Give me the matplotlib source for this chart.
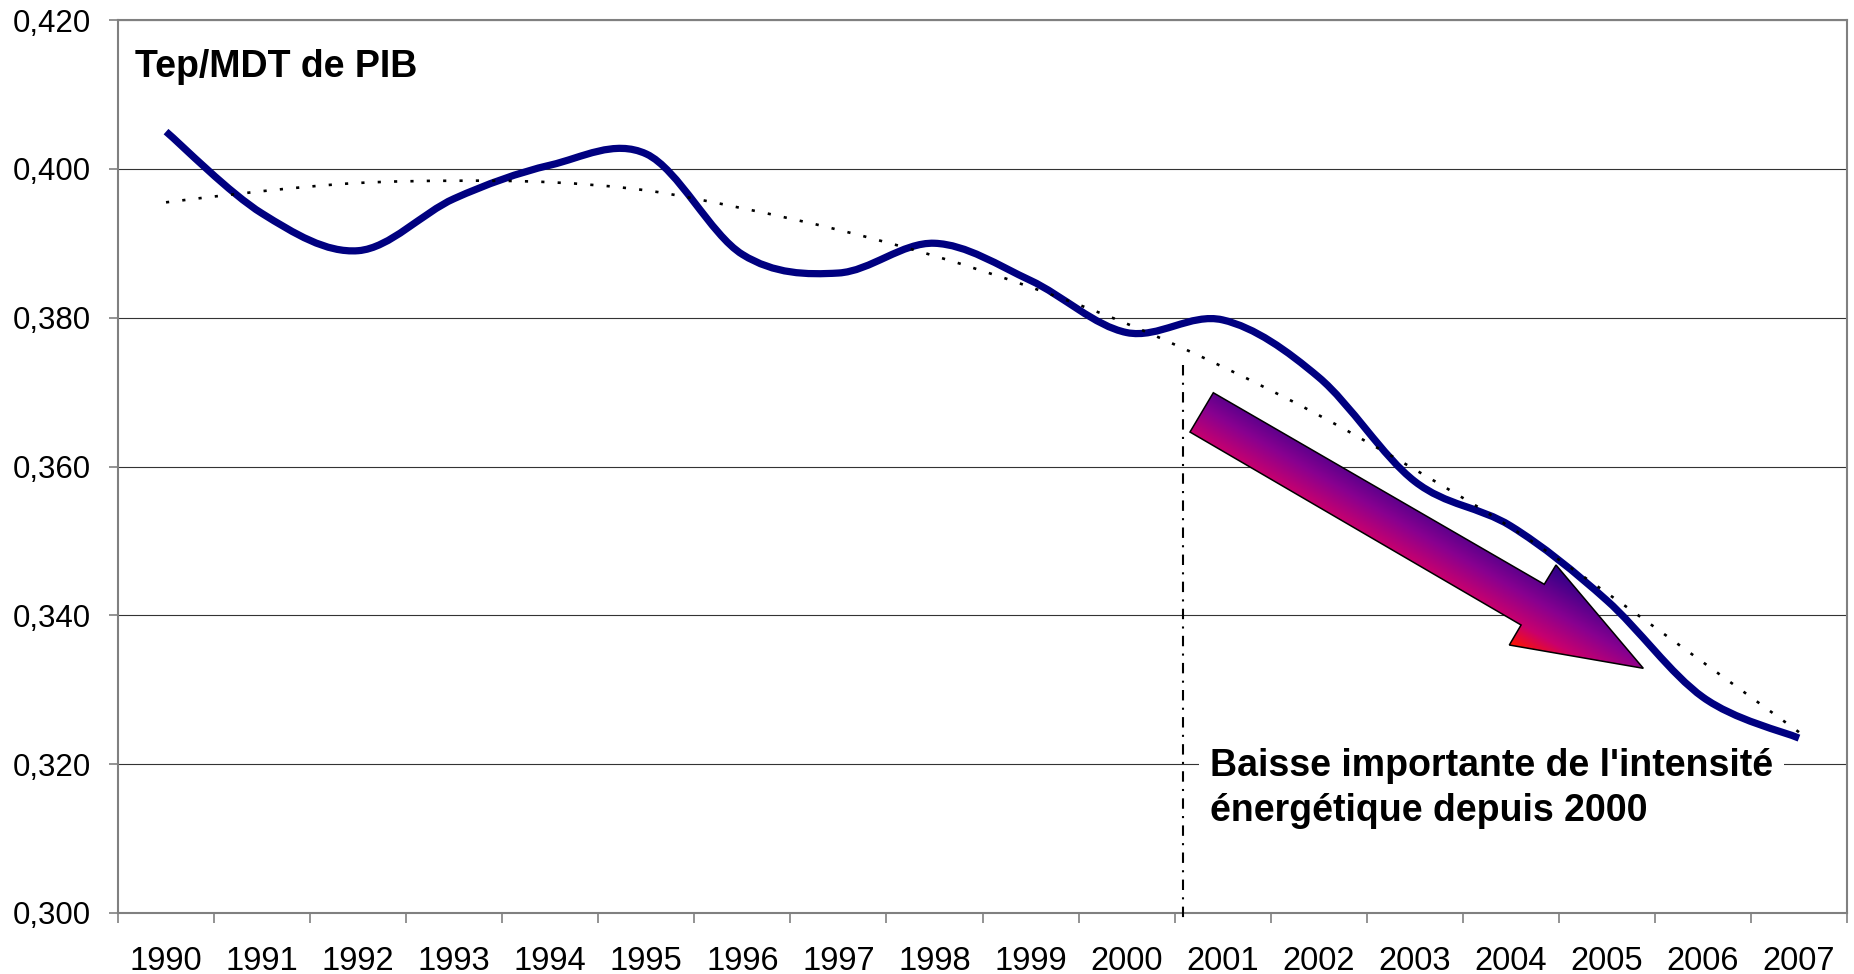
import numpy as np
import matplotlib
matplotlib.use('Agg')
from matplotlib import pyplot as plt
from matplotlib.path import Path
from matplotlib.patches import PathPatch, Polygon
from matplotlib.colors import LinearSegmentedColormap

plt.rcParams['font.family'] = ['Liberation Sans', 'DejaVu Sans']

# donnees
annees = ['1990', '1991', '1992', '1993', '1994', '1995', '1996', '1997', '1998',
          '1999', '2000', '2001', '2002', '2003', '2004', '2005', '2006', '2007']
intensite = [0.405, 0.394, 0.389, 0.396, 0.4005, 0.402, 0.3885, 0.386, 0.390,
             0.385, 0.378, 0.3797, 0.372, 0.358, 0.352, 0.342, 0.329, 0.3235]
tendance = [0.3955, 0.397, 0.3981, 0.3984, 0.3982, 0.3971, 0.3947, 0.3918, 0.3883,
            0.3841, 0.3792, 0.3734, 0.3669, 0.3596, 0.3518, 0.3430, 0.3337, 0.3243]
yticks = [0.300, 0.320, 0.340, 0.360, 0.380, 0.400, 0.420]
ylabels = ['0,300', '0,320', '0,340', '0,360', '0,380', '0,400', '0,420']


def courbe_lissee(y):
    # chemin bezier type catmull-rom (ligne lissee d'Excel)
    pts = np.column_stack([np.arange(len(y)), y])
    verts = [pts[0]]
    codes = [Path.MOVETO]
    n = len(pts)
    for i in range(n - 1):
        p0 = pts[max(i - 1, 0)]
        p1 = pts[i]
        p2 = pts[i + 1]
        p3 = pts[min(i + 2, n - 1)]
        verts += [p1 + (p2 - p0) / 6, p2 - (p3 - p1) / 6, p2]
        codes += [Path.CURVE4] * 3
    return Path(verts, codes)


W, H = 1854, 974
fig = plt.figure(figsize=[W / 100, H / 100], dpi=100)
ax = fig.add_axes([118 / W, (H - 913) / H, 1729 / W, 893 / H])

ax.add_patch(PathPatch(courbe_lissee(intensite), fill=False, edgecolor='#000080',
                       lw=5.2, capstyle='butt', zorder=3))
ax.add_patch(PathPatch(courbe_lissee(tendance), fill=False, edgecolor='black',
                       lw=1.9, linestyle=(0, (1.2, 5)), zorder=4))

# ligne verticale 2000
ax.plot([10.59, 10.59], [0.3737, 0.2992], color='black', lw=1.5,
        linestyle=(0, (5, 3.5, 1, 3.5)), clip_on=False, zorder=4)

# fleche en degrade
fleche = [(0.6335, 0.5826), (0.6200, 0.5386), (0.8115, 0.3225), (0.8047, 0.3001),
          (0.8822, 0.2740), (0.8317, 0.3897), (0.8249, 0.3681)]
fl = np.array(fleche)
poly = Polygon(fl, closed=True, transform=ax.transAxes, facecolor='none',
               edgecolor='black', lw=1.1, zorder=6)
ax.add_patch(poly)
wpx, hpx = 1729, 893
x0, x1 = fl[:, 0].min(), fl[:, 0].max()
y0, y1 = fl[:, 1].min(), fl[:, 1].max()
gx, gy = np.meshgrid(np.linspace(x0, x1, 300), np.linspace(y0, y1, 300))
s = 0.501 * gx * wpx + 0.865 * gy * hpx
sv = 0.501 * fl[:, 0] * wpx + 0.865 * fl[:, 1] * hpx
s = (s - sv.min()) / (sv.max() - sv.min())
cmap = LinearSegmentedColormap.from_list('grad', [(0, '#ff1400'), (0.25, '#c8006e'),
                                                  (0.55, '#880090'), (1, '#2a0088')])
im = ax.imshow(s, extent=(x0, x1, y0, y1), transform=ax.transAxes, origin='lower',
               cmap=cmap, vmin=0, vmax=1, aspect='auto', interpolation='bilinear', zorder=5)
im.set_clip_path(poly)

ax.set_xlim(-0.5, 17.5)
ax.set_ylim(0.3, 0.42)

ax.set_yticks(yticks)
ax.set_yticklabels(ylabels)
ax.set_xticks(np.arange(-0.5, 18, 1))
ax.set_xticklabels([])
ax.set_xticks(np.arange(len(annees)), minor=True)
ax.set_xticklabels(annees, minor=True)
ax.tick_params(axis='y', labelsize=22.5, length=6.5, width=1.2, color='#808080', pad=13)
ax.tick_params(axis='x', which='major', length=7.2, width=1.2, color='#808080')
ax.tick_params(axis='x', which='minor', labelsize=23.5, length=0, pad=24)

ax.grid(axis='y', color='#333333', lw=0.8)
ax.set_axisbelow(True)
for axis in ['top', 'bottom', 'left', 'right']:
    ax.spines[axis].set_color('#808080')
    ax.spines[axis].set_linewidth(1.5)

ax.text(0.0098, 0.936, 'Tep/MDT de PIB', transform=ax.transAxes, fontsize=27,
        fontweight='bold', va='baseline', ha='left')
ax.text(0.6316, 0.1394, "Baisse importante de l'intensité\nénergétique depuis 2000",
        transform=ax.transAxes, fontsize=27, fontweight='bold', va='center', ha='left',
        linespacing=1.3, zorder=7,
        bbox=dict(boxstyle='square,pad=0.3', facecolor='white', edgecolor='none'))

fig.savefig('out.png', dpi=100)
